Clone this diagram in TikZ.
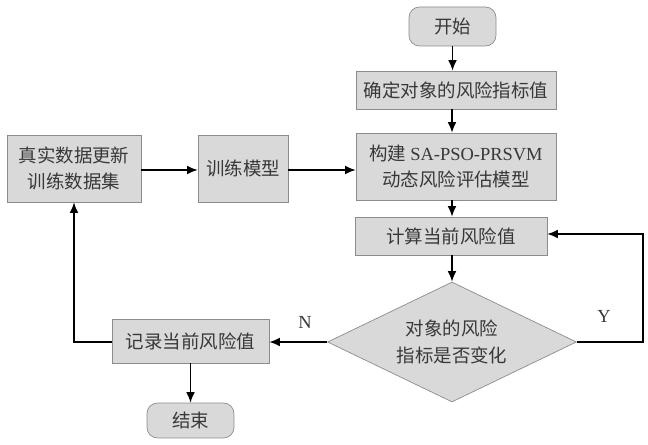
\documentclass[tikz,border=0pt]{standalone}
\usepackage{fontspec}
\setmainfont{Liberation Serif}
\newfontfamily\cjk{Noto Sans CJK SC}
\usetikzlibrary{shapes.geometric,arrows.meta}
\definecolor{boxfill}{HTML}{D9D9D9}
\definecolor{boxline}{HTML}{8C8C8C}
\definecolor{txt}{HTML}{383838}
\begin{document}
\begin{tikzpicture}[x=0.02cm, y=-0.02cm,
  every node/.style={font=\fontsize{10.5}{15}\selectfont\cjk, text=txt, inner sep=0pt},
  procbox/.style={rectangle, draw=boxline, fill=boxfill, align=center},
  termbox/.style={rectangle, rounded corners=6pt, draw=boxline, fill=boxfill},
  decision/.style={diamond, aspect=2, draw=boxline, fill=boxfill, align=center},
  arr/.style={-{Latex[length=6pt,width=5pt]}, thick}]
\useasboundingbox (0,0) rectangle (648,445);
\node[termbox, minimum width=1.74cm, minimum height=0.78cm](start) at (452.5,26.5){开始};
\node[procbox, minimum width=4cm, minimum height=0.76cm](index) at (456,90){确定对象的风险指标值};
\node[procbox, minimum width=4cm, minimum height=1.34cm](model) at (456,166.5){构建 {\rmfamily SA-PSO-PRSVM}\\动态风险评估模型};
\node[procbox, minimum width=3.84cm, minimum height=0.76cm](calc) at (451,236){计算当前风险值};
\node[decision, minimum width=4.98cm, minimum height=2.4cm](change) at (452,342){对象的风险\\指标是否变化};
\node[procbox, minimum width=3.14cm, minimum height=0.88cm](record) at (190.5,341){记录当前风险值};
\node[termbox, minimum width=1.74cm, minimum height=0.7cm](finish) at (190.5,420.5){结束};
\node[procbox, minimum width=2.68cm, minimum height=1.34cm](update) at (74,168.5){真实数据更新\\训练数据集};
\node[procbox, minimum width=1.8cm, minimum height=1.34cm](train) at (243,168.5){训练模型};
\coordinate (yturn) at (643,342);
\coordinate (nturn) at (74,342);
\node[font=\rmfamily\fontsize{10.5}{12}\selectfont](ylab) at (604,316){Y};
\node[font=\rmfamily\fontsize{10.5}{12}\selectfont](nlab) at (305,322){N};
% main flow
\draw[arr] (start.south) -- (start.south |- index.north);
\draw[arr] (index.south -| change.north) -- (model.north -| change.north);
\draw[arr] (model.south -| change.north) -- (calc.north -| change.north);
\draw[arr] (calc.south -| change.north) -- (change.north);
\draw[arr] (change.west) -- (record.east |- change.west);
\draw[arr] (record.south -| finish.north) -- (finish.north);
% loops
\draw[arr] (change.east) -- (yturn) -- ++(0,-108) -- (calc.east |- 0,234);
\draw[arr] (record.west |- nturn) -- (nturn) -- (update.south);
\draw[arr] (update.east |- 0,170) -- (train.west |- 0,170);
\draw[arr] (train.east |- 0,170) -- (model.west |- 0,170);
\end{tikzpicture}
\end{document}
